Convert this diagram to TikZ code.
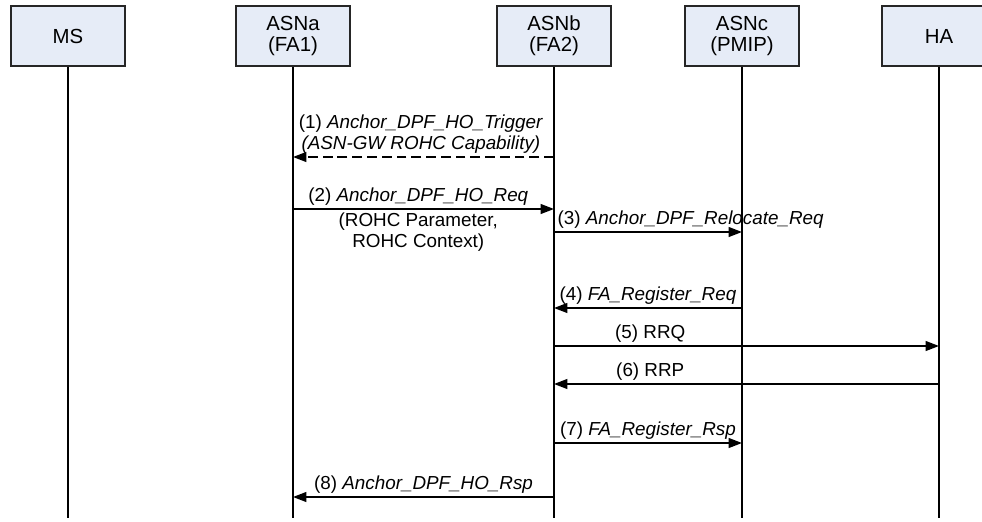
\documentclass[tikz,border=0pt]{standalone}
\usepackage{fontspec}
\setmainfont{Liberation Sans}
\usetikzlibrary{arrows.meta}

\definecolor{boxfill}{RGB}{230,236,247}

\tikzset{
    entity/.style={draw=black!85, fill=boxfill, line width=1.2pt, minimum width=2.85cm, minimum height=1.5cm, inner sep=0pt, align=center, font=\fontsize{14.5}{15}\selectfont},
    life/.style={line width=1.1pt},
    msg/.style={line width=1.1pt, -{Triangle[length=9.5pt,width=7pt]}},
    lbl/.style={inner sep=2pt, align=center, font=\fontsize{13.4}{15}\selectfont},
}

\begin{document}
\begin{tikzpicture}[x=0.025cm, y=-0.025cm]
    \useasboundingbox (0,0) rectangle (982,521);

    % the boxes on top
    \node[entity] (ms) at (68,36) {MS};
    \node[entity] (asna) at (293,36) {ASNa\\(FA1)};
    \node[entity] (asnb) at (554,36) {ASNb\\(FA2)};
    \node[entity] (asnc) at (742,36) {ASNc\\(PMIP)};
    \node[entity] (ha) at (939,36) {HA};

    % lifelines
    \coordinate (bottom) at (0,518);
    \draw[life] (ms.south) -- (ms.south |- bottom);
    \draw[life] (asna.south) -- (asna.south |- bottom);
    \draw[life] (asnb.south) -- (asnb.south |- bottom);
    \draw[life] (asnc.south) -- (asnc.south |- bottom);
    \draw[life] (ha.south) -- (ha.south |- bottom);

    % heights of the messages
    \coordinate (m1) at (0,157);
    \coordinate (m2) at (0,209);
    \coordinate (m3) at (0,232);
    \coordinate (m4) at (0,308);
    \coordinate (m5) at (0,346);
    \coordinate (m6) at (0,384);
    \coordinate (m7) at (0,443);
    \coordinate (m8) at (0,497);


    \draw[msg, dash pattern=on 7pt off 3.5pt] (asnb |- m1) -- node[lbl, above, pos=0.51] (t1) {(1) \textit{Anchor\_DPF\_HO\_Trigger}\\\textit{(ASN-GW ROHC Capability)}} (asna |- m1);
    \draw[msg] (asna |- m2) -- node[lbl, above, pos=0.48] (t2) {(2) \textit{Anchor\_DPF\_HO\_Req}}
        node[lbl, below, pos=0.48] (t2b) {(ROHC Parameter,\\ROHC Context)} (asnb |- m2);
    \draw[msg] (asnb |- m3) -- node[lbl, above right, pos=0] (t3) {(3) \textit{Anchor\_DPF\_Relocate\_Req}} (asnc |- m3);
    \draw[msg] (asnc |- m4) -- node[lbl, above] (t4) {(4) \textit{FA\_Register\_Req}} (asnb |- m4);


    \draw[msg] (asnb |- m5) -- node[lbl, above, pos=0.25] (t5) {(5) RRQ} (ha |- m5);
    \draw[msg] (ha |- m6) -- node[lbl, above, pos=0.75] (t6) {(6) RRP} (asnb |- m6);

    \draw[msg] (asnb |- m7) -- node[lbl, above] (t7) {(7) \textit{FA\_Register\_Rsp}} (asnc |- m7);
    \draw[msg] (asnb |- m8) -- node[lbl, above] (t8) {(8) \textit{Anchor\_DPF\_HO\_Rsp}} (asna |- m8);

\end{tikzpicture}
\end{document}
